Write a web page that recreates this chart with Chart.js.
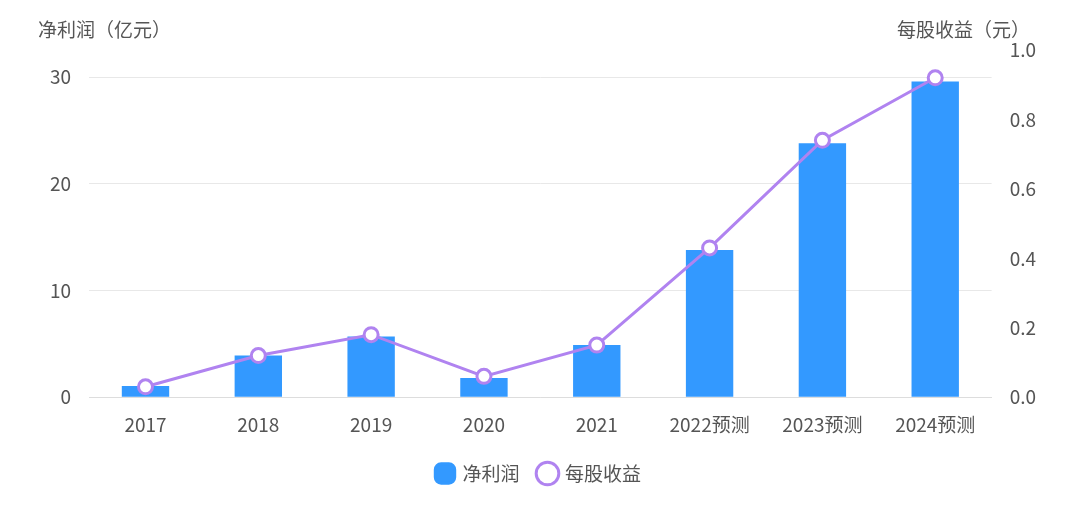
<!DOCTYPE html>
<html>
<head>
<meta charset="utf-8">
<script src="https://cdn.jsdelivr.net/npm/chart.js@4"></script>
<style>
  body { margin: 0; background: #fff; }
  #wrap { width: 1080px; height: 513px; }
</style>
</head>
<body>
<div id="wrap"><canvas id="c"></canvas></div>
<script>
const years = ['2017', '2018', '2019', '2020', '2021', '2022预测', '2023预测', '2024预测'];
const netProfit = [1.05, 3.9, 5.7, 1.8, 4.9, 13.8, 23.8, 29.6];
const eps = [0.03, 0.12, 0.18, 0.06, 0.15, 0.43, 0.74, 0.92];

const font = "'Noto Sans CJK SC', 'Noto Sans', sans-serif";

// axis titles drawn above the plot
const axisTitles = {
  id: 'axisTitles',
  afterDraw(chart) {
    const ctx = chart.ctx;
    ctx.save();
    ctx.font = '19px ' + font;
    ctx.fillStyle = '#555';
    ctx.textBaseline = 'middle';
    ctx.textAlign = 'left';
    ctx.fillText('净利润（亿元）', 38, 30);
    ctx.textAlign = 'right';
    ctx.fillText('每股收益（元）', 1030, 30);
    ctx.restore();
  }
};

new Chart(document.getElementById('c'), {
  type: 'bar',
  data: {
    labels: years,
    datasets: [
      {
        type: 'line',
        label: '每股收益',
        data: eps,
        yAxisID: 'y1',
        borderColor: '#b083f0',
        backgroundColor: '#fff',
        borderWidth: 3,
        pointRadius: 7,
        pointHoverRadius: 7,
        pointBorderWidth: 3,
        pointBackgroundColor: '#fff',
        pointStyle: 'circle',
        order: 0,
      },
      {
        label: '净利润',
        data: netProfit,
        yAxisID: 'y',
        backgroundColor: '#3399ff',
        barPercentage: 0.42,
        categoryPercentage: 1,
        order: 1,
      },
    ],
  },
  options: {
    responsive: true,
    maintainAspectRatio: false,
    animation: false,
    layout: { padding: { top: 50, left: 32, right: 34, bottom: 20 } },
    plugins: {
      legend: {
        position: 'bottom',
        reverse: true,
        labels: {
          usePointStyle: true,
          boxWidth: 16,
          boxHeight: 16,
          font: { family: font, size: 19 },
          color: '#555',
          padding: 20,
          generateLabels(chart) {
            return chart.data.datasets.map((ds, i) => ({
              text: ds.label,
              datasetIndex: i,
              fillStyle: i === 1 ? '#3399ff' : '#fff',
              strokeStyle: i === 1 ? '#3399ff' : '#b083f0',
              lineWidth: 3,
              pointStyle: i === 1 ? 'rectRounded' : 'circle',
              fontColor: '#555',
            }));
          },
        },
      },
      tooltip: { enabled: false },
    },
    scales: {
      x: {
        grid: { display: false },
        border: { color: '#ddd' },
        ticks: { font: { family: font, size: 19 }, color: '#555', padding: 8 },
      },
      y: {
        position: 'left',
        min: 0,
        max: 32.55,
        afterBuildTicks(axis) { axis.ticks = [0, 10, 20, 30].map(v => ({ value: v })); },
        grid: { color: '#e8e8e8', drawTicks: false },
        border: { display: false },
        ticks: { font: { family: font, size: 19 }, color: '#555', padding: 18 },
      },
      y1: {
        position: 'right',
        min: 0,
        max: 1,
        grid: { display: false },
        border: { display: false },
        ticks: {
          stepSize: 0.2,
          font: { family: font, size: 19 },
          color: '#555',
          padding: 10,
          callback: v => v.toFixed(1),
        },
      },
    },
  },
  plugins: [axisTitles],
});
</script>
</body>
</html>
